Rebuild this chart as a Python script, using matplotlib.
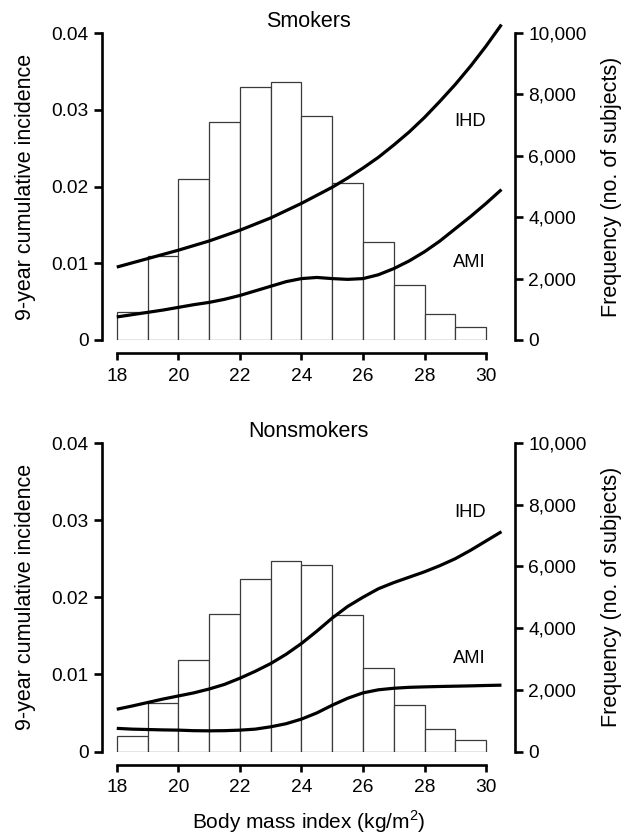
import numpy as np
import matplotlib
matplotlib.use('Agg')
import matplotlib.pyplot as plt
from matplotlib.ticker import FuncFormatter

plt.rcParams['font.family'] = ['Liberation Sans', 'DejaVu Sans']
plt.rcParams['mathtext.fontset'] = 'custom'
plt.rcParams['mathtext.rm'] = 'Liberation Sans'

# ---------------------------------------------------------------------------
# Data
# ---------------------------------------------------------------------------
BIN_EDGES = list(range(18, 30))          # left edges of the 1-unit BMI bins

SMOKERS_FREQ = [920, 2730, 5240, 7100, 8240, 8420, 7300, 5130, 3200, 1780, 845, 430]
NONSMOKERS_FREQ = [506, 1556, 2980, 4470, 5600, 6160, 6040, 4440, 2710, 1520, 745, 366]

# curves read every half BMI unit, 18 .. 30.5
CURVE_X = [18, 18.5, 19, 19.5, 20, 20.5, 21, 21.5, 22, 22.5, 23, 23.5, 24,
           24.5, 25, 25.5, 26, 26.5, 27, 27.5, 28, 28.5, 29, 29.5, 30, 30.5]

SMOKERS_IHD = [0.0095, 0.01005, 0.0106, 0.01115, 0.0117, 0.0123, 0.0129,
               0.0136, 0.0143, 0.0151, 0.0159, 0.01685, 0.0178, 0.01885,
               0.0199, 0.0211, 0.0224, 0.0238, 0.0254, 0.0271, 0.0290,
               0.0311, 0.0333, 0.0357, 0.0383, 0.0411]
SMOKERS_AMI = [0.0030, 0.0033, 0.0036, 0.0039, 0.00425, 0.0046, 0.0049,
               0.0053, 0.0058, 0.0064, 0.0070, 0.0076, 0.0080, 0.00815,
               0.0080, 0.0079, 0.0080, 0.0085, 0.0093, 0.0103, 0.0115,
               0.0129, 0.0145, 0.0161, 0.0178, 0.0196]

NONSMOKERS_IHD = [0.00548, 0.0059, 0.00635, 0.0068, 0.0072, 0.0076, 0.0081,
                  0.0087, 0.0095, 0.0104, 0.0114, 0.0126, 0.0140, 0.0156,
                  0.0173, 0.0188, 0.0200, 0.0211, 0.0219, 0.0226, 0.0233,
                  0.0241, 0.0250, 0.0261, 0.0273, 0.0285]
NONSMOKERS_AMI = [0.0030, 0.0029, 0.00285, 0.0028, 0.00277, 0.0027, 0.00268,
                  0.0027, 0.00277, 0.0029, 0.0032, 0.0036, 0.0042, 0.0050,
                  0.0060, 0.0069, 0.0076, 0.0080, 0.0082, 0.00832, 0.00838,
                  0.00843, 0.00847, 0.00851, 0.00856, 0.0086]

PANELS = [
    ('Smokers', SMOKERS_FREQ, SMOKERS_IHD, SMOKERS_AMI, 0.0285, 0.0101),
    ('Nonsmokers', NONSMOKERS_FREQ, NONSMOKERS_IHD, NONSMOKERS_AMI, 0.031, 0.012),
]

INC_TICKS = [0, 0.01, 0.02, 0.03, 0.04]
INC_LABELS = ['0', '0.01', '0.02', '0.03', '0.04']
FREQ_TICKS = [0, 2000, 4000, 6000, 8000, 10000]
X_TICKS = [18, 20, 22, 24, 26, 28, 30]

SPINE_LW = 1.9
CURVE_LW = 2.3
TICK_FS = 13.8
LABEL_FS = 15.5


def draw_panel(fig, rect, title, freq, ihd, ami, ihd_y, ami_y, show_xlabel):
    ax = fig.add_axes(rect)
    axf = ax.twinx()
    ax.set_zorder(axf.get_zorder() + 1)
    ax.patch.set_visible(False)

    # histogram on the right axis
    axf.bar(BIN_EDGES, freq, width=1, align='edge', facecolor='white',
            edgecolor='#3a3a3a', linewidth=0.9)
    axf.set_ylim(0, 10000)
    axf.set_yticks(FREQ_TICKS)
    axf.yaxis.set_major_formatter(FuncFormatter(lambda v, p: f'{int(v):,}'))

    # incidence curves on the left axis
    for series in (ihd, ami):
        ax.plot(CURVE_X, series, color='black', lw=CURVE_LW, clip_on=False,
                solid_capstyle='butt', solid_joinstyle='round')
    ax.text(30.0, ihd_y, 'IHD', fontsize=13.2, ha='right', va='center')
    ax.text(30.0, ami_y, 'AMI', fontsize=13.2, ha='right', va='center')

    ax.set_xlim(17.52, 30.94)
    ax.set_ylim(0, 0.04)
    ax.set_yticks(INC_TICKS)
    ax.set_yticklabels(INC_LABELS)
    ax.set_xticks(X_TICKS)

    for a in (ax, axf):
        for s in a.spines.values():
            s.set_linewidth(SPINE_LW)
        a.spines['top'].set_visible(False)
    ax.spines['right'].set_visible(False)
    axf.spines['left'].set_visible(False)
    axf.spines['bottom'].set_visible(False)
    ax.spines['bottom'].set_position(('outward', 9.5))
    ax.spines['bottom'].set_bounds(18, 30)

    ax.tick_params(axis='y', direction='out', length=5.5, width=SPINE_LW,
                   pad=4, labelsize=TICK_FS)
    ax.tick_params(axis='x', direction='out', length=5, width=SPINE_LW,
                   pad=5.5, labelsize=TICK_FS)
    axf.tick_params(axis='y', direction='out', length=5.5, width=SPINE_LW,
                    pad=4, labelsize=TICK_FS)

    ax.set_title(title, fontsize=LABEL_FS, pad=4)

    # rotated axis labels
    left, bottom, width, height = rect
    yc = bottom + height / 2
    fig.text(26 / 633, yc, '9-year cumulative incidence', rotation=90,
             fontsize=LABEL_FS, ha='center', va='center')
    fig.text(612 / 633, yc, 'Frequency (no. of subjects)', rotation=90,
             fontsize=LABEL_FS, ha='center', va='center')

    if show_xlabel:
        ax.set_xlabel('Body mass index (kg/m$^{\\mathrm{2}}$)', fontsize=15,
                      labelpad=9)


def main():
    fig = plt.figure(figsize=(6.33, 8.36), dpi=100)
    rects = [
        (102 / 633, 1 - 340 / 836, 413 / 633, 307 / 836),
        (102 / 633, 1 - 751.5 / 836, 413 / 633, 308.5 / 836),
    ]
    for i, (rect, panel) in enumerate(zip(rects, PANELS)):
        title, freq, ihd, ami, ihd_y, ami_y = panel
        draw_panel(fig, rect, title, freq, ihd, ami, ihd_y, ami_y,
                   show_xlabel=(i == 1))

    fig.savefig('out.png', dpi=100, facecolor='white')
    plt.close(fig)


if __name__ == '__main__':
    main()
